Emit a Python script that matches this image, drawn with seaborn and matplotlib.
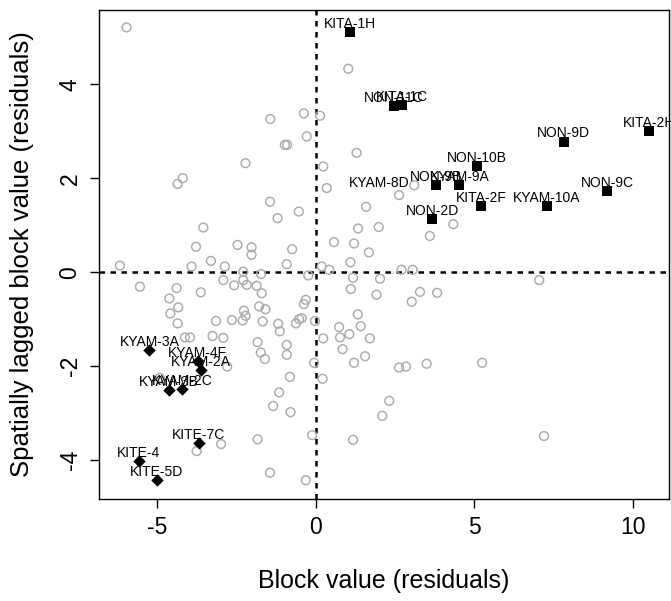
import numpy as np
import pandas as pd
import matplotlib
matplotlib.use('Agg')
import matplotlib.pyplot as plt
import seaborn as sns

# 회색 원 : 라벨 없는 블록
grey_x = [-5.96, -1.43, -0.37, 0.14, -0.28, -0.97, -0.90, -2.21, -4.35, -4.19,
          -1.44, -1.20, -0.53, -3.54, -3.77, -2.46, -2.02, -2.02, -0.74, -3.30,
          -0.91, -6.17, -3.91, -2.86, -2.28, -1.72, -0.23, -2.91, -2.28, 1.03,
          1.29, 0.24, 0.35, 3.11, 2.63, 1.59, 4.34, 1.34, 1.99, 3.60,
          0.58, 1.21, 1.68, 1.10, 0.19, 0.43, 1.18, 2.03, 2.71, 3.06,
          1.11, 1.92, 3.29, 3.83, 3.03, 7.05, -0.31, -0.37, -0.44, -0.02,
          1.33, 0.74, 1.42, 0.77, 1.06, 1.71, 0.24, 0.85, 1.56, 1.21,
          -0.05, 2.63, 2.85, 3.50, 5.25, 0.22, 2.32, 2.10, -0.11, 1.18,
          7.20, -0.31, -5.54, -4.38, -3.62, -2.57, -2.17, -1.86, -1.70, -4.61,
          -4.33, -4.58, -4.35, -3.14, -2.64, -2.26, -2.21, -2.30, -1.78, -1.58,
          -1.67, -1.18, -1.13, -0.62, -0.52, -4.12, -3.96, -3.25, -2.91, -1.83,
          -1.73, -1.60, -0.91, -0.91, -2.79, -0.81, -4.91, -1.15, -1.34, -0.79,
          -1.83, -2.98, -3.75, -1.44]
grey_y = [5.21, 3.26, 3.38, 3.33, 2.89, 2.71, 2.71, 2.32, 1.88, 2.00,
          1.50, 1.15, 1.29, 0.95, 0.54, 0.58, 0.53, 0.37, 0.49, 0.24,
          0.17, 0.14, 0.12, 0.12, 0.01, -0.04, -0.07, -0.17, -0.17, 4.33,
          2.54, 2.25, 1.79, 1.85, 1.64, 1.39, 1.02, 0.93, 0.96, 0.77,
          0.64, 0.61, 0.42, 0.21, 0.12, 0.05, -0.12, -0.14, 0.05, 0.05,
          -0.36, -0.48, -0.42, -0.44, -0.63, -0.17, -0.59, -0.68, -0.98, -1.04,
          -0.90, -1.17, -1.15, -1.39, -1.32, -1.41, -1.41, -1.64, -1.79, -1.93,
          -1.93, -2.03, -2.01, -1.95, -1.93, -2.27, -2.74, -3.06, -3.47, -3.57,
          -3.49, -4.43, -0.31, -0.34, -0.43, -0.28, -0.27, -0.29, -0.45, -0.56,
          -0.75, -0.88, -1.09, -1.04, -1.02, -0.82, -0.93, -1.03, -0.73, -0.79,
          -1.05, -1.10, -1.26, -1.09, -1.00, -1.39, -1.39, -1.36, -1.40, -1.49,
          -1.71, -1.85, -1.55, -1.76, -2.01, -2.23, -2.25, -2.56, -2.85, -2.98,
          -3.56, -3.66, -3.81, -4.27]

# 검은 사각형 : high-high 블록
sq_labels = ['KITA-1H', 'NON-11C', 'KITA-1C', 'KITA-2H', 'NON-9D', 'NON-10B',
             'KYAM-8D', 'NON-9B', 'KYAM-9A', 'KITA-2F', 'KYAM-10A', 'NON-9C', 'NON-2D']
sq_x = [1.08, 2.47, 2.72, 10.51, 7.82, 5.08, 3.81, 3.81, 4.53, 5.22, 7.28, 9.19, 3.67]
sq_y = [5.11, 3.54, 3.56, 3.00, 2.78, 2.25, 1.85, 1.85, 1.85, 1.41, 1.41, 1.73, 1.13]

# 검은 마름모 : low-low 블록
dm_labels = ['KYAM-3A', 'KYAM-4F', 'KYAM-2A', 'KYAM-3B', 'KYAM-2C',
             'KITE-7C', 'KITE-4', 'KITE-5D']
dm_x = [-5.24, -3.72, -3.62, -4.63, -4.20, -3.68, -5.58, -5.01]
dm_y = [-1.66, -1.90, -2.08, -2.51, -2.49, -3.64, -4.02, -4.43]

sns.set_style('ticks')
plt.rcParams['font.family'] = ['Liberation Sans', 'DejaVu Sans']
plt.rcParams['axes.unicode_minus'] = False
plt.rcParams['text.color'] = 'black'
plt.rcParams['axes.labelcolor'] = 'black'
plt.rcParams['xtick.color'] = 'black'
plt.rcParams['ytick.color'] = 'black'

fig = plt.figure(figsize=(6.71, 6.01), dpi=100)
ax = fig.add_axes([0.1475, 0.1697, 0.8495, 0.8136])

grey = pd.DataFrame({'x': grey_x, 'y': grey_y})
sq = pd.DataFrame({'x': sq_x, 'y': sq_y, 'label': sq_labels})
dm = pd.DataFrame({'x': dm_x, 'y': dm_y, 'label': dm_labels})

sns.scatterplot(data=grey, x='x', y='y', ax=ax, marker='o', s=40,
                facecolor='none', edgecolor='#ababab', linewidth=1.05, zorder=2)
sns.scatterplot(data=sq, x='x', y='y', ax=ax, marker='s', s=48,
                color='black', edgecolor='black', linewidth=0, zorder=3)
sns.scatterplot(data=dm, x='x', y='y', ax=ax, marker='D', s=40,
                color='black', edgecolor='black', linewidth=0, zorder=3)

ax.axhline(0, color='black', lw=1.8, ls=(0, (2.2, 2.2)), zorder=1)
ax.axvline(0, color='black', lw=1.8, ls=(0, (2.2, 2.2)), zorder=1)

# 라벨은 점 위쪽 (KYAM-8D 만 왼쪽)
for d in (sq, dm):
    for _, r in d.iterrows():
        off = (-41, 1.5) if r['label'] == 'KYAM-8D' else (0, 6)
        ax.annotate(r['label'], (r['x'], r['y']), xytext=off, textcoords='offset points',
                    ha='center', va='center', fontsize=10, color='black',
                    annotation_clip=False, zorder=4)

ax.set_xlim(-6.83, 11.14)
ax.set_ylim(-4.83, 5.58)
ax.set_xticks([-5, 0, 5, 10])
ax.set_yticks([-4, -2, 0, 2, 4])
ax.set_xlabel('Block value (residuals)', fontsize=18, labelpad=21)
ax.set_ylabel('Spatially lagged block value (residuals)', fontsize=18.5, labelpad=18)
ax.tick_params(axis='both', labelsize=16.5, length=6.5, width=1.0, color='black', pad=6)
for t in ax.get_yticklabels():
    t.set_rotation(90)
    t.set_va('center')
for s in ax.spines.values():
    s.set_visible(True)
    s.set_linewidth(1.0)
    s.set_color('black')

fig.savefig('out.png', dpi=100)
